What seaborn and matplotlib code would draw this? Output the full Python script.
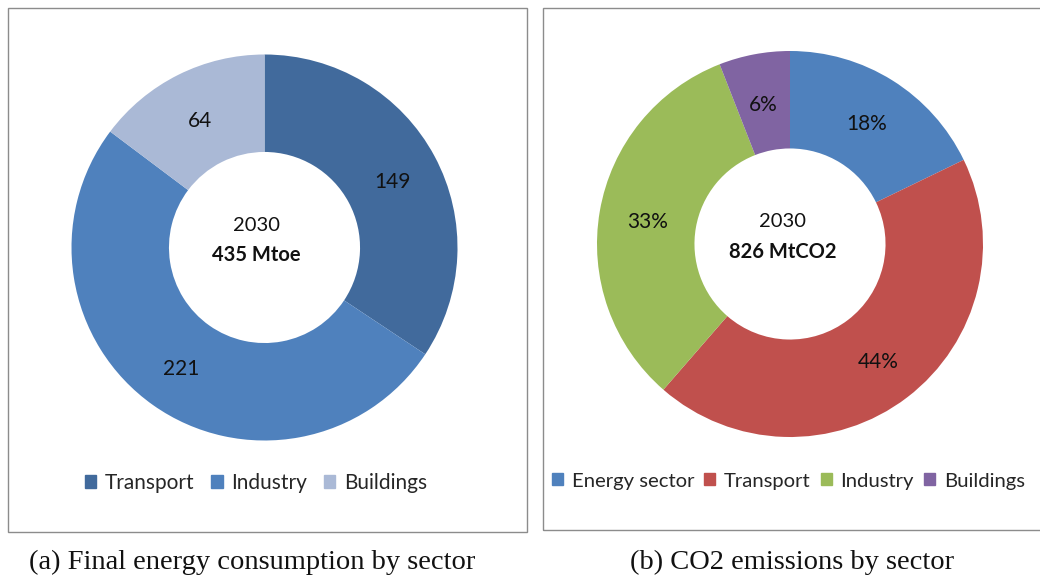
import matplotlib
matplotlib.use("Agg")
import matplotlib.pyplot as plt
from matplotlib.patches import Rectangle, Patch
import seaborn as sns

# Final energy consumption by sector, 2030 (Mtoe)
energy_sectors = ["Transport", "Industry", "Buildings"]
energy_values = [149, 221, 64]
energy_total = "435 Mtoe"

# CO2 emissions by sector, 2030 (share of total, %)
co2_sectors = ["Energy sector", "Transport", "Industry", "Buildings"]
co2_values = [18, 44, 33, 6]
co2_total = "826 MtCO2"

year = "2030"
captions = ["(a) Final energy consumption by sector", "(b) CO2 emissions by sector"]

sns.set_theme(style="white")
plt.rcParams["font.family"] = ["Lato", "DejaVu Sans"]

energy_colors = ["#416A9C", "#4F81BD", "#AAB9D6"]
co2_colors = sns.color_palette(["#4F81BD", "#C0504D", "#9BBB59", "#8064A2"])

W, H = 1040, 579
fig = plt.figure(figsize=(W / 100, H / 100), dpi=100)


def px_axes(cx, cy, r):
    return fig.add_axes([(cx - r) / W, (H - cy - r) / H, 2 * r / W, 2 * r / H])


def donut(ax, values, colors, fmt):
    wedges, texts = ax.pie(
        values, colors=colors, startangle=90, counterclock=False,
        radius=1.0, labels=[fmt(v) for v in values], labeldistance=0.75,
        wedgeprops=dict(width=0.505, linewidth=0),
        textprops=dict(fontsize=15, color="#111111", ha="center", va="center"),
    )
    for t in texts:
        x, y = t.get_position()
        t.set_position((x, y - 0.015))
    ax.set_xlim(-1, 1)
    ax.set_ylim(-1, 1)
    ax.set_aspect("equal")
    ax.axis("off")
    return wedges


def center_text(ax, total):
    ax.text(-0.04, 0.115, year, ha="center", va="center", fontsize=14.5, color="#111111")
    ax.text(-0.04, -0.04, total, ha="center", va="center", fontsize=14.5,
            fontweight="bold", color="#111111")


# panel frames
for x0, y0, x1, y1 in [(8, 8, 527, 532), (543, 8, 1046, 530)]:
    fig.patches.append(Rectangle((x0 / W, (H - y1) / H), (x1 - x0) / W, (y1 - y0) / H,
                                 transform=fig.transFigure, fill=False,
                                 edgecolor="#8C8C8C", linewidth=1.0))

ax1 = px_axes(264.5, 247.5, 193)
donut(ax1, energy_values, energy_colors, lambda v: f"{v}")
center_text(ax1, energy_total)

ax2 = px_axes(790, 244, 193)
donut(ax2, co2_values, co2_colors, lambda v: f"{v}%")
center_text(ax2, co2_total)

leg_kw = dict(frameon=False, handlelength=0.55, handleheight=0.55, handletextpad=0.42,
              borderpad=0, borderaxespad=0)
fig.legend(handles=[Patch(color=c, label=l) for c, l in zip(energy_colors, energy_sectors)],
           loc="center", bbox_to_anchor=(256 / W, (H - 483) / H), ncol=3,
           columnspacing=0.8, fontsize=15, **leg_kw)
fig.legend(handles=[Patch(color=c, label=l) for c, l in zip(co2_colors, co2_sectors)],
           loc="center left", bbox_to_anchor=(552 / W, (H - 481) / H), ncol=4,
           columnspacing=0.5, fontsize=14.6, **leg_kw)

for cx, cap in zip([252, 792], captions):
    fig.text(cx / W, (H - 562) / H, cap, ha="center", va="center", fontsize=20.5,
             family=["Liberation Serif", "DejaVu Serif"], color="#111111")

fig.savefig("out.png", dpi=100, facecolor="white")
